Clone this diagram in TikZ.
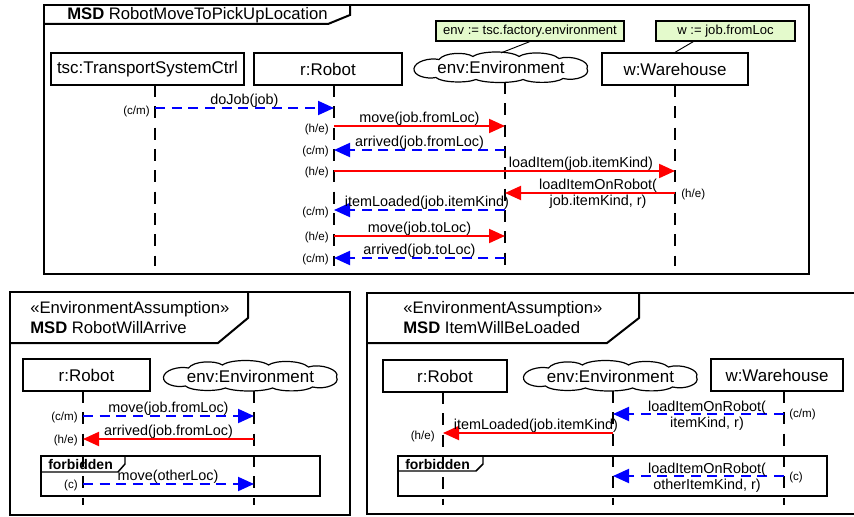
\documentclass[tikz,border=0pt]{standalone}
\usepackage{fontspec}
\setmainfont{Liberation Sans}
\usetikzlibrary{arrows.meta}
\definecolor{notegreen}{RGB}{228,250,204}
\begin{document}
\begin{tikzpicture}[x=0.75pt,y=-0.75pt,
  frameline/.style={line width=1.5pt},
  subframe/.style={line width=1.1pt},
  headbox/.style={draw,line width=1pt,minimum height=24pt,inner sep=0pt,
    font=\fontsize{12.7}{15}\selectfont},
  envcloud/.style={minimum width=130pt,minimum height=21.5pt,inner sep=0pt,
    font=\fontsize{12.7}{15}\selectfont},
  cloudedge/.pic={
    \draw[line width=0.9pt]
      (-87,1) .. controls (-86,-6) and (-72,-10) .. (-62,-8)
      .. controls (-57,-15) and (-36,-16) .. (-28,-11)
      .. controls (-20,-17) and (10,-17) .. (18,-11)
      .. controls (25,-16) and (50,-16) .. (58,-9)
      .. controls (70,-13) and (90,-6) .. (86,1)
      .. controls (90,8) and (75,14) .. (62,11)
      .. controls (55,16) and (30,16) .. (22,12)
      .. controls (12,16) and (-15,16) .. (-25,12)
      .. controls (-35,16) and (-60,15) .. (-65,10)
      .. controls (-75,12) and (-88,8) .. cycle;
  },
  notebox/.style={draw,fill=notegreen,line width=0.8pt,minimum height=15pt,inner sep=0pt,
    font=\fontsize{9.8}{12}\selectfont},
  noteline/.style={line width=0.7pt},
  lifeline/.style={line width=1.1pt,dash pattern=on 9pt off 7pt},
  hot/.style={draw=red,line width=1.5pt,-{Triangle[length=12pt,width=10.5pt]}},
  cold/.style={draw=blue,line width=1.5pt,dash pattern=on 7.5pt off 5pt,
    -{Triangle[length=12pt,width=10.5pt]}},
  msg/.style={anchor=base,inner sep=0pt,font=\fontsize{10.8}{12}\selectfont},
  mode/.style={inner sep=0pt,font=\fontsize{8.7}{10}\selectfont},
  title/.style={anchor=west,inner sep=0pt,font=\fontsize{12.5}{15}\selectfont},
  forb/.style={anchor=west,inner sep=0pt,font=\fontsize{10.5}{12}\selectfont\bfseries}]
\useasboundingbox (0,0) rectangle (854,517);
\clip (0,0) rectangle (854,517);

% ---------------- MSD RobotMoveToPickUpLocation ----------------
\draw[frameline] (44,5) rectangle (809,274);
\draw[frameline] (44,24) -- (328,24) -- (350,15) -- (350,5);
\node[title] (t1) at (67,15) {\textbf{MSD} RobotMoveToPickUpLocation};

\node[headbox,minimum width=144.75pt] (tsc) at (147.5,69) {tsc:TransportSystemCtrl};
\node[headbox,minimum width=111pt] (rob) at (328,69) {r:Robot};
\node[envcloud] (env) at (501,67.5) {env:Environment};
\pic at (env.center) {cloudedge};
\node[headbox,minimum width=109.5pt] (wh) at (675,69) {w:Warehouse};

\node[notebox,minimum width=141pt] (envnote) at (530,31) {env := tsc.factory.environment};
\node[notebox,minimum width=104.25pt] (whnote) at (725.5,31) {w := job.fromLoc};
\draw[noteline] (envnote.south) -- (env.north);
\draw[noteline] ([xshift=-24pt]whnote.south) -- (wh.north);

\coordinate (tscT) at (155,85);  \coordinate (tscB) at (155,266);
\coordinate (robT) at (334,85);  \coordinate (robB) at (334,266);
\coordinate (envT) at (505,82);  \coordinate (envB) at (505,266);
\coordinate (whT)  at (675,85);  \coordinate (whB)  at (675,266);
\foreach \l in {tsc,rob,env,wh} \draw[lifeline] (\l T) -- (\l B);

\coordinate (a1) at (0,108);
\coordinate (a2) at (0,126);
\coordinate (a3) at (0,150);
\coordinate (a4) at (0,171);
\coordinate (a5) at (0,193);
\coordinate (a6) at (0,210);
\coordinate (a7) at (0,236);
\coordinate (a8) at (0,258);

\draw[cold] (tscT |- a1) -- (robT |- a1);
\node[msg] (l1) at (244.5,104.5) {doJob(job)};
\node[mode,anchor=east] (k1) at (150,111) {(c/m)};

\draw[hot] (robT |- a2) -- (envT |- a2);
\node[msg] (l2) at (419.5,122.5) {move(job.fromLoc)};
\node[mode,anchor=east] (k2) at (329,129) {(h/e)};

\draw[cold] (envT |- a3) -- (robT |- a3);
\node[msg] (l3) at (419.5,146.5) {arrived(job.fromLoc)};
\node[mode,anchor=east] (k3) at (329,151) {(c/m)};

\draw[hot] (robT |- a4) -- (whT |- a4);
\node[msg] (l4) at (581,167.5) {loadItem(job.itemKind)};
\node[mode,anchor=east] (k4) at (329,172) {(h/e)};

\draw[hot] (whT |- a5) -- (envT |- a5);
\node[msg] (l5a) at (598,190) {loadItemOnRobot(};
\node[msg] (l5b) at (598,205) {job.itemKind, r)};
\node[mode,anchor=west] (k5) at (681,194) {(h/e)};

\draw[cold] (envT |- a6) -- (robT |- a6);
\node[msg] (l6) at (427,206.5) {itemLoaded(job.itemKind)};
\node[mode,anchor=east] (k6) at (329,212) {(c/m)};

\draw[hot] (robT |- a7) -- (envT |- a7);
\node[msg] (l7) at (419.5,232.5) {move(job.toLoc)};
\node[mode,anchor=east] (k7) at (329,237) {(h/e)};

\draw[cold] (envT |- a8) -- (robT |- a8);
\node[msg] (l8) at (419.5,254.5) {arrived(job.toLoc)};
\node[mode,anchor=east] (k8) at (329,259) {(c/m)};

% ---------------- MSD RobotWillArrive ----------------
\draw[frameline] (10,292) rectangle (350,515);
\draw[frameline] (10,343) -- (218,343) -- (248,318) -- (248,292);
\node[title] (t2a) at (30,309) {«EnvironmentAssumption»};
\node[title] (t2b) at (30,328) {\textbf{MSD} RobotWillArrive};

\node[headbox,minimum width=95.25pt] (rob2) at (86.5,375) {r:Robot};
\node[envcloud] (env2) at (250.5,376) {env:Environment};
\pic at (env2.center) {cloudedge};
\coordinate (rob2T) at (83,391);  \coordinate (rob2B) at (83,505);
\coordinate (env2T) at (254,391); \coordinate (env2B) at (254,505);
\foreach \l in {rob2,env2} \draw[lifeline] (\l T) -- (\l B);

\coordinate (b1) at (0,416);
\coordinate (b2) at (0,439);
\coordinate (b3) at (0,484);

\draw[cold] (rob2T |- b1) -- (env2T |- b1);
\node[msg] (n1) at (168.5,412.5) {move(job.fromLoc)};
\node[mode,anchor=east] (j1) at (78,417) {(c/m)};

\draw[hot] (env2T |- b2) -- (rob2T |- b2);
\node[msg] (n2) at (168.5,435.5) {arrived(job.fromLoc)};
\node[mode,anchor=east] (j2) at (78,440) {(h/e)};

\draw[subframe] (41,456) rectangle (320,496);
\draw[subframe] (41,472) -- (118,472) -- (125,464) -- (125,456);
\node[forb] (f2) at (48,464) {forbidden};

\draw[cold] (rob2T |- b3) -- (env2T |- b3);
\node[msg] (n3) at (168,480.5) {move(otherLoc)};
\node[mode,anchor=east] (j3) at (78,485) {(c)};

% ---------------- MSD ItemWillBeLoaded ----------------
\draw[frameline] (860,293) -- (367,293) -- (367,514) -- (860,514);
\draw[frameline] (367,343) -- (607,343) -- (639,318) -- (639,293);
\node[title] (t3a) at (403,309) {«EnvironmentAssumption»};
\node[title] (t3b) at (403,328) {\textbf{MSD} ItemWillBeLoaded};

\node[headbox,minimum width=93pt] (rob3) at (445,376) {r:Robot};
\node[envcloud] (env3) at (610.5,376) {env:Environment};
\pic at (env3.center) {cloudedge};
\node[headbox,minimum width=99pt] (wh3) at (777,375) {w:Warehouse};
\coordinate (rob3T) at (443,392); \coordinate (rob3B) at (443,505);
\coordinate (env3T) at (613,391); \coordinate (env3B) at (613,505);
\coordinate (wh3T)  at (784,391); \coordinate (wh3B)  at (784,505);
\foreach \l in {rob3,env3,wh3} \draw[lifeline] (\l T) -- (\l B);

\coordinate (c1) at (0,414);
\coordinate (c2) at (0,433);
\coordinate (c3) at (0,476);

\draw[cold] (wh3T |- c1) -- (env3T |- c1);
\node[msg] (p1a) at (707,411) {loadItemOnRobot(};
\node[msg] (p1b) at (707,427) {itemKind, r)};
\node[mode,anchor=west] (q1) at (789,414) {(c/m)};

\draw[hot] (env3T |- c2) -- (rob3T |- c2);
\node[msg] (p2) at (536,429.5) {itemLoaded(job.itemKind)};
\node[mode,anchor=east] (q2) at (435,436) {(h/e)};

\draw[subframe] (398,456) rectangle (827,496);
\draw[subframe] (398,471) -- (476,471) -- (483,464) -- (483,456);
\node[forb] (f3) at (405,464) {forbidden};

\draw[cold] (wh3T |- c3) -- (env3T |- c3);
\node[msg] (p3a) at (707,473) {loadItemOnRobot(};
\node[msg] (p3b) at (707,489) {otherItemKind, r)};
\node[mode,anchor=west] (q3) at (789,477) {(c)};
\end{tikzpicture}
\end{document}
